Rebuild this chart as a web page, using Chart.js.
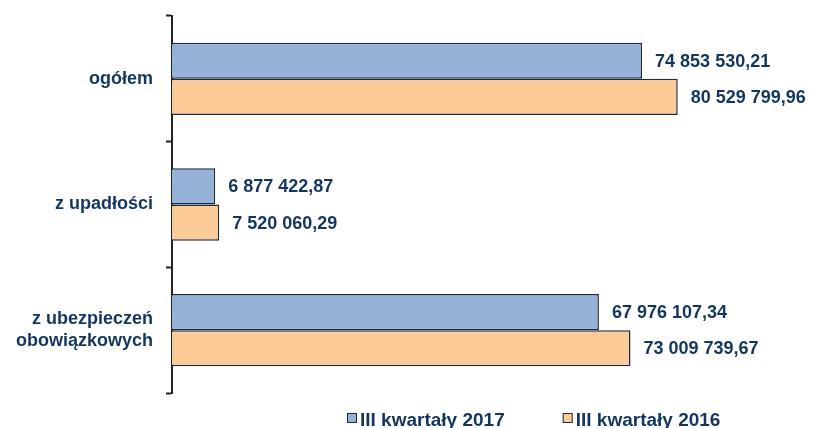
<!DOCTYPE html>
<html lang="pl">
<head>
<meta charset="utf-8">
<title>Wykres</title>
<script src="https://cdn.jsdelivr.net/npm/chart.js@4/dist/chart.umd.min.js"></script>
<style>
  html, body { margin: 0; padding: 0; background: #fff; }
  #wrap { width: 815px; height: 428px; position: relative; }
</style>
</head>
<body>
<div id="wrap"><canvas id="myChart"></canvas></div>
<script>
// Dane
const categories = ['ogółem', 'z upadłości', ['z ubezpieczeń', 'obowiązkowych']];
const seriesNames = ['III kwartały 2017', 'III kwartały 2016'];
const values2017 = [74853530.21, 6877422.87, 67976107.34];
const values2016 = [80529799.96, 7520060.29, 73009739.67];
const axisMin = 0;
const axisMax = 100000000;

// Style
const navy = '#12365F';
const fontFamily = "'Liberation Sans', Arial, sans-serif";
const barEdge = '#1C2B40';

// 74 853 530,21
function formatPL(v) {
  const parts = v.toFixed(2).split('.');
  const intPart = parts[0].replace(/\B(?=(\d{3})+(?!\d))/g, ' ');
  return intPart + ',' + parts[1];
}

// etykiety wartosci przy koncu slupka
const valueLabels = {
  id: 'valueLabels',
  afterDatasetsDraw(chart) {
    const ctx = chart.ctx;
    ctx.save();
    ctx.font = 'bold 18px ' + fontFamily;
    ctx.fillStyle = navy;
    ctx.textAlign = 'left';
    ctx.textBaseline = 'middle';
    chart.data.datasets.forEach((ds, i) => {
      chart.getDatasetMeta(i).data.forEach((bar, j) => {
        ctx.fillText(formatPL(ds.data[j]), bar.x + 13, bar.y + 1);
      });
    });
    ctx.restore();
  }
};

// legenda na dole (kwadracik + tekst)
const bottomLegend = {
  id: 'bottomLegend',
  afterDraw(chart) {
    const ctx = chart.ctx;
    let x = 347;
    const baseline = 426;
    const box = 10;
    ctx.save();
    ctx.font = 'bold 19px ' + fontFamily;
    ctx.textBaseline = 'alphabetic';
    chart.data.datasets.forEach(ds => {
      ctx.fillStyle = ds.backgroundColor;
      ctx.fillRect(x, 413, box, box);
      ctx.strokeStyle = barEdge;
      ctx.lineWidth = 1;
      ctx.strokeRect(x + 0.5, 413.5, box - 1, box - 1);
      ctx.fillStyle = navy;
      ctx.fillText(ds.label, x + box + 3, baseline);
      x += box + 3 + ctx.measureText(ds.label).width + 58;
    });
    ctx.restore();
  }
};

const data = {
  labels: categories,
  datasets: [{
    label: seriesNames[0],
    data: values2017,
    backgroundColor: '#95B3D7',
    borderColor: barEdge,
    borderWidth: 1.5
  }, {
    label: seriesNames[1],
    data: values2016,
    backgroundColor: '#FDCB98',
    borderColor: barEdge,
    borderWidth: 1.5
  }]
};

const config = {
  type: 'bar',
  data: data,
  options: {
    indexAxis: 'y',
    responsive: true,
    maintainAspectRatio: false,
    animation: false,
    categoryPercentage: 0.575,
    barPercentage: 1,
    layout: {
      padding: { top: 16, right: 15, bottom: 35, left: 0 }
    },
    plugins: {
      legend: { display: false },
      tooltip: { enabled: false }
    },
    scales: {
      x: {
        display: false,
        min: axisMin,
        max: axisMax
      },
      y: {
        // stala szerokosc osi i bez dodatkowego marginesu od etykiet
        afterFit: s => {
          s.width = 172;
          s.paddingTop = 0;
          s.paddingBottom = 0;
        },
        border: { display: true, color: '#222', width: 2 },
        grid: {
          drawOnChartArea: false,
          drawTicks: true,
          tickLength: 6,
          tickColor: '#222',
          tickWidth: 2,
          offset: true
        },
        ticks: {
          color: navy,
          padding: 13,
          font: { family: fontFamily, size: 18, weight: 'bold', lineHeight: 1.2 }
        }
      }
    }
  },
  plugins: [valueLabels, bottomLegend]
};

const myChart = new Chart(document.getElementById('myChart').getContext('2d'), config);
</script>
</body>
</html>
